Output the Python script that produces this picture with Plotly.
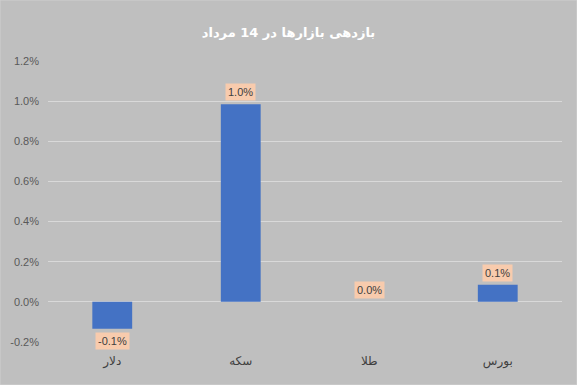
import plotly.graph_objects as go

categories = ["دلار", "سکه", "طلا", "بورس"]
values = [-0.134, 0.985, 0.0, 0.085]
labels = ["-0.1%", "1.0%", "0.0%", "0.1%"]
tick_vals = [-0.2, 0.0, 0.2, 0.4, 0.6, 0.8, 1.0, 1.2]
tick_text = ["-0.2%", "0.0%", "0.2%", "0.4%", "0.6%", "0.8%", "1.0%", "1.2%"]
title_text = "بازدهی بازارها در 14 مرداد"

bg = "#BFBFBF"
fig = go.Figure(go.Bar(x=categories, y=values, marker_color="#4472C4",
                       marker_line_width=0, hoverinfo="skip"))

annotations = []
for c, v, t in zip(categories, values, labels):
    pos = v >= 0
    annotations.append(dict(
        x=c, y=v, xref="x", yref="y", text=t, showarrow=False,
        yanchor="bottom" if pos else "top", yshift=3 if pos else -3,
        bgcolor="#F8CBAD", borderpad=2,
        font=dict(family="Liberation Sans, Arial", size=11, color="#404040")))

fig.update_layout(
    width=577, height=385,
    paper_bgcolor=bg, plot_bgcolor=bg,
    margin=dict(l=48, r=15, t=61, b=43),
    title=dict(text="<b>" + title_text + "</b>", x=0.5, xanchor="center",
               y=1 - 32 / 385, yanchor="middle",
               font=dict(family="DejaVu Sans", size=13, color="white")),
    bargap=0.69,
    showlegend=False,
    annotations=annotations,
    shapes=[dict(type="rect", xref="paper", yref="paper",
                 x0=-48/514, x1=1+15/514, y0=-43/281, y1=1+61/281,
                 line=dict(color="#D0D0D0", width=1), layer="below")],
    xaxis=dict(showgrid=False, zeroline=False, showline=False, ticks="",
               ticklabelstandoff=10, automargin=False,
               tickfont=dict(family="DejaVu Sans", size=12, color="#404040")),
    yaxis=dict(range=[-0.2, 1.2], tickvals=tick_vals, ticktext=tick_text,
               showgrid=True, gridcolor="#D9D9D9", gridwidth=1, zeroline=False,
               showline=False, ticks="", ticklabelstandoff=8, automargin=False,
               tickfont=dict(family="Liberation Sans, Arial", size=11, color="#595959")),
)
fig.write_html("out.html", config={"displayModeBar": False},
               post_script="document.body.style.margin='0';document.body.style.padding='0';")
